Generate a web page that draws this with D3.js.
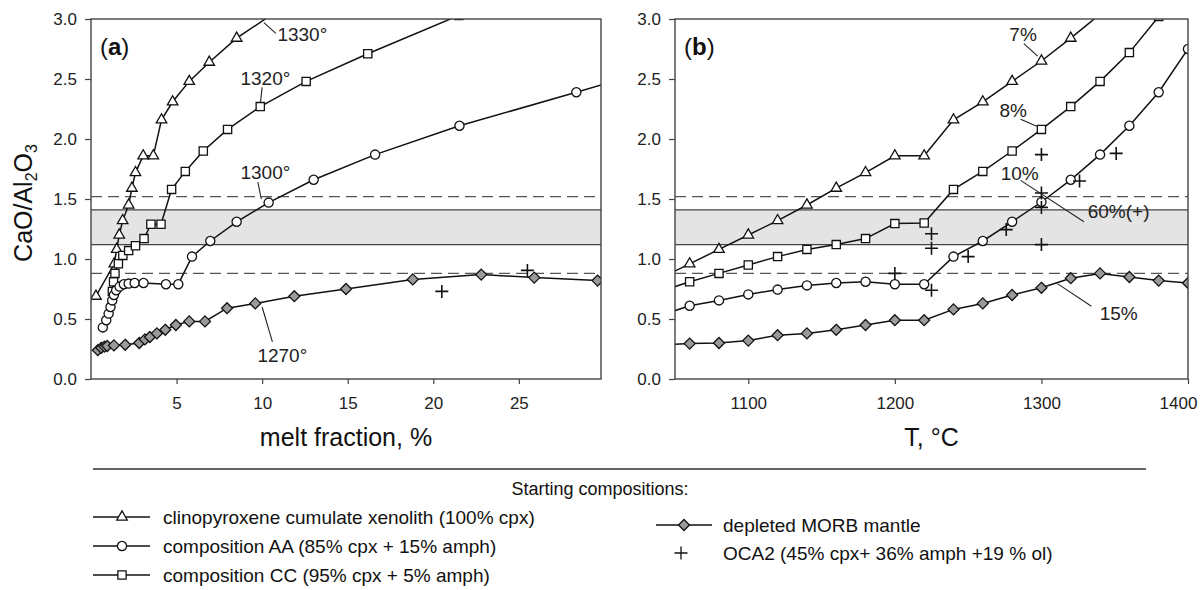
<!DOCTYPE html>
<html>
<head>
<meta charset="utf-8">
<script src="https://cdn.jsdelivr.net/npm/d3@7"></script>
<style>
  body { margin: 0; background: #fff; }
  svg { font-family: Arial, "Liberation Sans", sans-serif; }
</style>
</head>
<body>
<svg id="chart" width="1202" height="590"></svg>
<script>
// ---- data: CaO/Al2O3 vs melt fraction (panel a) ----
const cpxMelt = [[0.29,0.69],[1.36,0.96],[1.5,1.08],[1.65,1.20],[1.85,1.32],[2.2,1.45],[2.39,1.59],[2.6,1.72],
  [3.05,1.86],[3.64,1.86],[4.12,2.16],[4.77,2.31],[5.74,2.48],[6.91,2.64],[8.51,2.84],[10.6,3.04]];
const aaMelt = [[0.69,0.43],[0.89,0.49],[1.03,0.545],[1.14,0.60],[1.24,0.655],[1.34,0.70],[1.47,0.74],[1.67,0.77],
  [1.92,0.79],[2.2,0.795],[2.55,0.80],[3.07,0.80],[4.38,0.79],[5.1,0.79],[5.9,1.02],[6.97,1.15],[8.51,1.31],
  [10.38,1.47],[13.01,1.66],[16.6,1.87],[21.53,2.11],[28.36,2.39],[36.9,2.75]];
const ccMelt = [[1.25,0.73],[1.32,0.81],[1.40,0.88],[1.6,0.96],[1.86,1.03],[2.2,1.07],[2.6,1.11],[3.1,1.17],
  [3.5,1.29],[4.09,1.29],[4.71,1.58],[5.51,1.73],[6.56,1.90],[7.98,2.08],[9.89,2.27],[12.57,2.48],[16.17,2.71],[21.5,3.03]];
const morbMelt = [[0.4,0.24],[0.6,0.26],[0.79,0.27],[0.95,0.275],[1.34,0.28],[2.0,0.285],[2.82,0.30],[3.15,0.33],
  [3.44,0.35],[3.85,0.38],[4.34,0.41],[4.96,0.45],[5.74,0.48],[6.66,0.48],[7.95,0.59],[9.6,0.63],[11.88,0.69],
  [14.9,0.75],[18.8,0.83],[22.8,0.87],[25.9,0.845],[29.6,0.82]];
const ocaMelt = [[20.5,0.73],[25.5,0.905]];

// ---- data: CaO/Al2O3 vs temperature (panel b) ----
const cpxTemp = [[1040,0.84],[1060,0.96],[1080,1.08],[1100,1.20],[1120,1.32],[1140,1.45],[1160,1.59],[1180,1.72],
  [1200,1.86],[1220,1.86],[1240,2.16],[1260,2.31],[1280,2.48],[1300,2.65],[1320,2.84],[1340,3.04]];
const aaTemp = [[1040,0.53],[1060,0.61],[1080,0.655],[1100,0.705],[1120,0.745],[1140,0.78],[1160,0.80],[1180,0.81],
  [1200,0.79],[1220,0.79],[1240,1.02],[1260,1.15],[1280,1.31],[1300,1.475],[1320,1.66],[1340,1.87],[1360,2.11],
  [1380,2.39],[1400,2.75]];
const ccTemp = [[1040,0.73],[1060,0.81],[1080,0.88],[1100,0.95],[1120,1.02],[1140,1.08],[1160,1.12],[1180,1.17],
  [1200,1.295],[1220,1.30],[1240,1.58],[1260,1.73],[1280,1.90],[1300,2.08],[1320,2.27],[1340,2.48],[1360,2.72],[1380,3.02]];
const morbTemp = [[1040,0.285],[1060,0.295],[1080,0.30],[1100,0.32],[1120,0.365],[1140,0.38],[1160,0.41],[1180,0.45],
  [1200,0.49],[1220,0.49],[1240,0.58],[1260,0.63],[1280,0.70],[1300,0.76],[1320,0.84],[1340,0.88],[1360,0.85],
  [1380,0.82],[1400,0.80]];
const ocaTemp = [[1200,0.88],[1225,1.21],[1225,1.09],[1225,0.74],[1250,1.02],[1276,1.245],[1300,1.87],[1300,1.55],
  [1300,1.43],[1300,1.12],[1326,1.65],[1351,1.88]];

// reference field
const bandRange = [1.12, 1.41];
const dashedLevels = [0.88, 1.52];

const yTicks = [0, 0.5, 1.0, 1.5, 2.0, 2.5, 3.0];
const meltTicks = [5, 10, 15, 20, 25];
const tempTicks = [1100, 1200, 1300, 1400];

// annotations: [label, text x, text y, leader from x, y, leader to x, y]
const meltNotes = [
  ['1330°', 12.35, 2.82, 10.1, 2.97, 10.8, 2.88],
  ['1320°', 10.19, 2.45, 10.0, 2.43, 9.9, 2.30],
  ['1300°', 10.19, 1.67, 9.75, 1.64, 9.95, 1.50],
  ['1270°', 11.18, 0.14, 10.0, 0.60, 10.6, 0.31]
];
const tempNotes = [
  ['7%', 1287.5, 2.82, 1288, 2.795, 1297.4, 2.69],
  ['8%', 1280.7, 2.18, 1285.8, 2.164, 1296.8, 2.106],
  ['10%', 1285.2, 1.66, 1285.8, 1.655, 1329, 1.31],
  ['60%(+)', 1353.5, 1.34, null, null, null, null],
  ['15%', 1352.7, 0.49, 1310.9, 0.795, 1334.1, 0.606]
];

const legendLeft = ['clinopyroxene cumulate xenolith (100% cpx)', 'composition AA (85% cpx + 15% amph)', 'composition CC (95% cpx + 5% amph)'];
const legendRight = ['depleted MORB mantle', 'OCA2 (45% cpx+ 36% amph +19 % ol)'];

// ---- drawing ----
const svg = d3.select('#chart');
const plotTop = 19, plotBottom = 379;
const y = d3.scaleLinear().domain([0, 3]).range([plotBottom, plotTop]);

const markers = {
  tri: { path: d3.symbol(d3.symbolTriangle, 48)(), fill: '#fff' },
  circ: { path: d3.symbol(d3.symbolCircle, 66)(), fill: '#fff' },
  sq: { path: d3.symbol(d3.symbolSquare, 68)(), fill: '#fff' },
  dia: { path: 'M0,-5.5L5.5,0L0,5.5L-5.5,0Z', fill: '#9a9a9a' },
  plus: { path: 'M-6.5,0H6.5M0,-6.5V6.5', fill: 'none' }
};

function drawPanel(id, x, series, ticks, title, label, notes) {
  const [x0, x1] = x.range();
  const g = svg.append('g');

  g.append('clipPath').attr('id', 'clip-' + id)
    .append('rect').attr('x', x0).attr('y', plotTop).attr('width', x1 - x0).attr('height', plotBottom - plotTop);

  const plot = g.append('g').attr('clip-path', `url(#clip-${id})`);

  // grey reference field and dashed bounds
  plot.append('rect')
    .attr('x', x0).attr('width', x1 - x0)
    .attr('y', y(bandRange[1])).attr('height', y(bandRange[0]) - y(bandRange[1]))
    .attr('fill', '#e4e4e4');
  plot.selectAll('.band-line').data(bandRange).enter().append('line')
    .attr('x1', x0).attr('x2', x1).attr('y1', d => y(d)).attr('y2', d => y(d))
    .attr('stroke', '#444').attr('stroke-width', 1.3);
  plot.selectAll('.dash-line').data(dashedLevels).enter().append('line')
    .attr('x1', x0).attr('x2', x1).attr('y1', d => y(d)).attr('y2', d => y(d))
    .attr('stroke', '#555').attr('stroke-width', 1.4).attr('stroke-dasharray', '11,6');

  const line = d3.line().x(d => x(d[0])).y(d => y(d[1]));

  series.forEach(s => {
    if (s.line) {
      plot.append('path').datum(s.data)
        .attr('d', line).attr('fill', 'none')
        .attr('stroke', '#111').attr('stroke-width', 1.5);
    }
    const m = markers[s.marker];
    plot.selectAll(null).data(s.data).enter().append('path')
      .attr('transform', d => `translate(${x(d[0])},${y(d[1])})`)
      .attr('d', m.path)
      .attr('fill', m.fill)
      .attr('stroke', '#111')
      .attr('stroke-width', s.marker === 'plus' ? 1.6 : 1.3);
  });

  // annotations
  notes.forEach(n => {
    if (n[3] !== null) {
      g.append('line')
        .attr('x1', x(n[3])).attr('y1', y(n[4]))
        .attr('x2', x(n[5])).attr('y2', y(n[6]))
        .attr('stroke', '#222').attr('stroke-width', 1.1);
    }
    g.append('text')
      .attr('x', x(n[1])).attr('y', y(n[2]))
      .attr('text-anchor', 'middle')
      .attr('font-size', 19).attr('fill', '#222')
      .text(n[0]);
  });

  // axes
  const ya = g.append('g').attr('transform', `translate(${x0},0)`)
    .call(d3.axisLeft(y).tickValues(yTicks).tickFormat(d3.format('.1f')).tickSize(6).tickPadding(8));
  const xa = g.append('g').attr('transform', `translate(0,${plotBottom})`)
    .call(d3.axisBottom(x).tickValues(ticks).tickFormat(d3.format('d')).tickSize(5).tickPadding(13));
  [ya, xa].forEach(a => {
    a.select('.domain').remove();
    a.selectAll('.tick line').attr('stroke', '#444').attr('stroke-width', 1.2);
    a.selectAll('.tick text').attr('font-size', 17).attr('fill', '#222')
      .attr('font-family', 'Arial, "Liberation Sans", sans-serif');
  });
  // keep the last x label inside the picture
  xa.selectAll('.tick text').filter(d => d === 1400).attr('dx', -10);

  g.append('rect')
    .attr('x', x0).attr('y', plotTop).attr('width', x1 - x0).attr('height', plotBottom - plotTop)
    .attr('fill', 'none').attr('stroke', '#444').attr('stroke-width', 1.4);

  g.append('text')
    .attr('x', (x0 + x1) / 2).attr('y', 446)
    .attr('text-anchor', 'middle').attr('font-size', 25).attr('fill', '#111')
    .text(title);

  const lab = g.append('text').attr('x', x0 + 9).attr('y', 55).attr('font-size', 24).attr('fill', '#111');
  lab.append('tspan').text('(');
  lab.append('tspan').attr('font-weight', 'bold').text(label);
  lab.append('tspan').text(')');
}

const xMelt = d3.scaleLinear().domain([0, 29.8]).range([91, 601]);
const xTemp = d3.scaleLinear().domain([1050, 1400]).range([675, 1188]);

drawPanel('a', xMelt, [
  { data: cpxMelt, marker: 'tri', line: true },
  { data: ccMelt, marker: 'sq', line: true },
  { data: aaMelt, marker: 'circ', line: true },
  { data: morbMelt, marker: 'dia', line: true },
  { data: ocaMelt, marker: 'plus', line: false }
], meltTicks, 'melt fraction, %', 'a', meltNotes);

drawPanel('b', xTemp, [
  { data: cpxTemp, marker: 'tri', line: true },
  { data: ccTemp, marker: 'sq', line: true },
  { data: aaTemp, marker: 'circ', line: true },
  { data: morbTemp, marker: 'dia', line: true },
  { data: ocaTemp, marker: 'plus', line: false }
], tempTicks, 'T, °C', 'b', tempNotes);

// y axis title
const yt = svg.append('text')
  .attr('transform', 'translate(32,203) rotate(-90)')
  .attr('text-anchor', 'middle').attr('font-size', 25).attr('fill', '#111');
yt.append('tspan').text('CaO/Al');
yt.append('tspan').attr('dy', 5).attr('font-size', 16).text('2');
yt.append('tspan').attr('dy', -5).text('O');
yt.append('tspan').attr('dy', 5).attr('font-size', 16).text('3');

// ---- legend ----
const legend = svg.append('g');
legend.append('line').attr('x1', 93).attr('x2', 1146).attr('y1', 469).attr('y2', 469)
  .attr('stroke', '#333').attr('stroke-width', 1.3);
legend.append('text').attr('x', 600).attr('y', 495).attr('text-anchor', 'middle')
  .attr('font-size', 18).attr('fill', '#111').text('Starting compositions:');

const leftKeys = ['tri', 'circ', 'sq'];
legendLeft.forEach((t, i) => {
  const cy = 517 + i * 29;
  legend.append('line').attr('x1', 93).attr('x2', 150).attr('y1', cy).attr('y2', cy)
    .attr('stroke', '#111').attr('stroke-width', 1.5);
  legend.append('path').attr('transform', `translate(122,${cy})`)
    .attr('d', markers[leftKeys[i]].path).attr('fill', '#fff').attr('stroke', '#111').attr('stroke-width', 1.3);
  legend.append('text').attr('x', 163).attr('y', cy + 7).attr('font-size', 19).attr('fill', '#111').text(t);
});

const rightKeys = ['dia', 'plus'];
legendRight.forEach((t, i) => {
  const cy = 525 + i * 28;
  if (rightKeys[i] !== 'plus') {
    legend.append('line').attr('x1', 656).attr('x2', 712).attr('y1', cy).attr('y2', cy)
      .attr('stroke', '#111').attr('stroke-width', 1.5);
  }
  legend.append('path').attr('transform', `translate(${rightKeys[i] === 'plus' ? 681 : 684},${cy})`)
    .attr('d', markers[rightKeys[i]].path).attr('fill', markers[rightKeys[i]].fill)
    .attr('stroke', '#111').attr('stroke-width', 1.3);
  legend.append('text').attr('x', 723).attr('y', cy + 7).attr('font-size', 19).attr('fill', '#111').text(t);
});

// 60%(+) label is left-anchored in the original
svg.selectAll('text').filter(function () { return d3.select(this).text() === '60%(+)'; })
  .attr('text-anchor', 'start').attr('x', xTemp(1331.6));
</script>
</body>
</html>
